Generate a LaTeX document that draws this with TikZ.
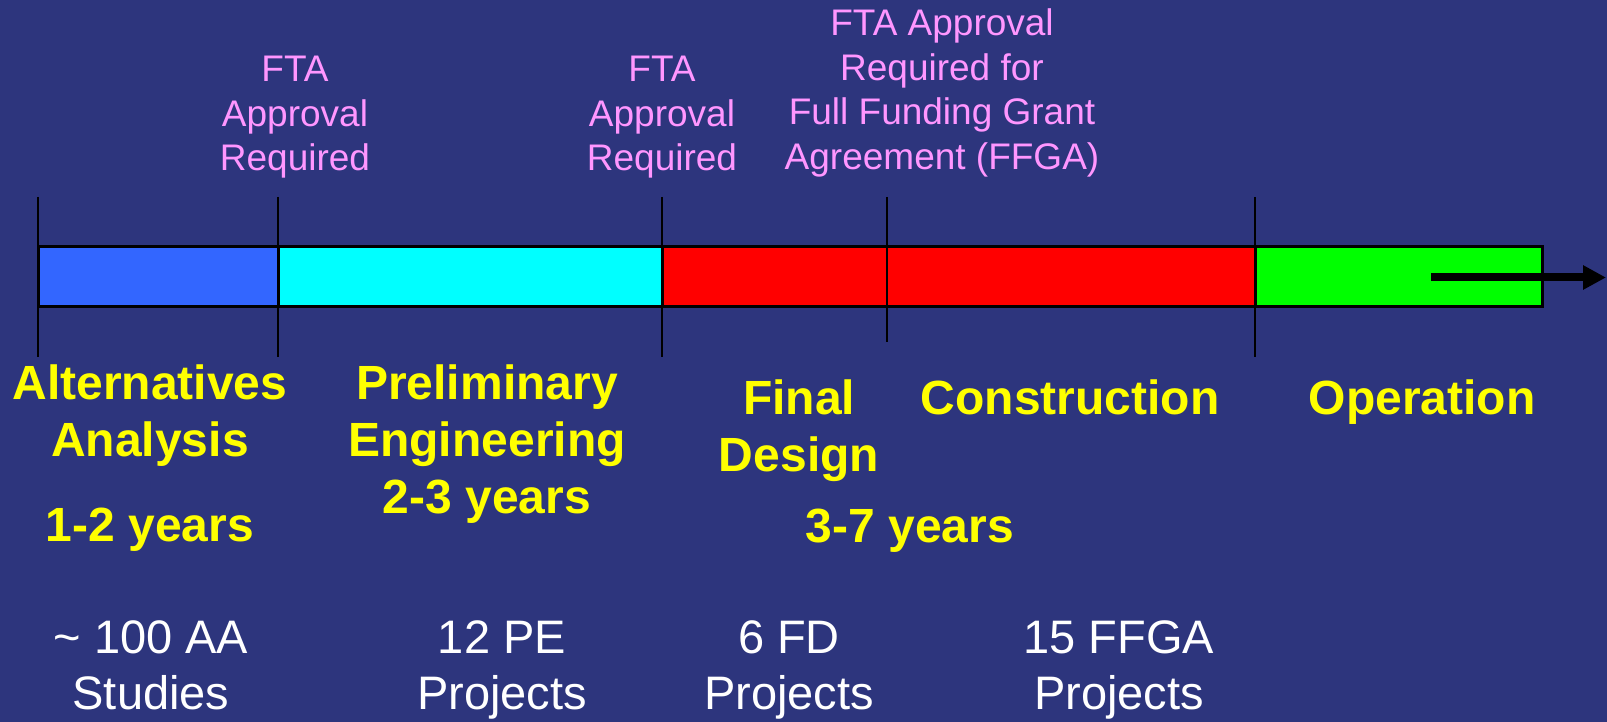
\documentclass[tikz,border=0pt]{standalone}
\usepackage{fontspec}
\setmainfont{Liberation Sans}
\usetikzlibrary{arrows.meta}

\definecolor{bgnavy}{RGB}{45,53,125}
\definecolor{ftapink}{RGB}{255,150,255}
\definecolor{aablue}{RGB}{51,102,255}
\definecolor{pecyan}{RGB}{0,255,255}
\definecolor{fdred}{RGB}{255,0,0}
\definecolor{opgreen}{RGB}{0,255,0}
\definecolor{phaseyellow}{RGB}{255,255,0}

\begin{document}
\begin{tikzpicture}[x=1pt,y=-1pt,
  approval/.style={anchor=north, inner sep=0pt, align=center, text=ftapink,
    font=\fontsize{37}{44.5}\selectfont},
  phase/.style={anchor=north, inner sep=0pt, align=center, text=phaseyellow,
    font=\fontsize{48}{57}\selectfont\bfseries},
  tally/.style={anchor=north, inner sep=0pt, align=center, text=white,
    font=\fontsize{47}{56}\selectfont},
  segment/.style={draw=black, line width=3pt},
  milestone/.style={draw=black, line width=2pt}]

  % page
  \fill[bgnavy] (0,0) rectangle (1607,722);
  \useasboundingbox (0,0) rectangle (1607,722);

  % phase bar
  \filldraw[segment, fill=aablue]  (38,246.5)  rectangle (278,306.5);
  \filldraw[segment, fill=pecyan]  (278,246.5) rectangle (662,306.5);
  \filldraw[segment, fill=fdred]   (662,246.5) rectangle (1255,306.5);
  \filldraw[segment, fill=opgreen] (1255,246.5) rectangle (1542,306.5);

  % milestone ticks
  \coordinate (t0a) at (38,197);   \coordinate (t0b) at (38,357);
  \coordinate (t1a) at (278,197);  \coordinate (t1b) at (278,357);
  \coordinate (t2a) at (662,197);  \coordinate (t2b) at (662,357);
  \coordinate (t3a) at (887,197);  \coordinate (t3b) at (887,342);
  \coordinate (t4a) at (1255,197); \coordinate (t4b) at (1255,357);
  \draw[milestone] (t0a) -- (t0b);
  \draw[milestone] (t1a) -- (t1b);
  \draw[milestone] (t2a) -- (t2b);
  \draw[milestone] (t3a) -- (t3b);
  \draw[milestone] (t4a) -- (t4b);

  % ongoing operation arrow
  \coordinate (opstart) at (1431,277.5);
  \coordinate (opend) at (1606,277.5);
  \draw[line width=8pt, -{Triangle[length=23pt,width=23pt]}] (opstart) -- (opend);

  % approval gates
  \node[approval] (gate1) at (295,56.2) {FTA\\Approval\\Required};
  \node[approval] (gate2) at (662,56.2) {FTA\\Approval\\Required};
  \node[approval] (gate3) at (942,8.5)
    {FTA Approval\\Required for\\Full Funding Grant\\Agreement (FFGA)};

  % phases
  \node[phase] (aa)   at (150,364.6)  {Alternatives\\Analysis};
  \node[phase] (aayr) at (150,507.6)  {1-2 years};
  \node[phase] (pe)   at (487,364.6)  {Preliminary\\Engineering\\2-3 years};
  \node[phase] (fd)   at (799,379.6)  {Final\\Design};
  \node[phase] (con)  at (1070,379.6) {Construction};
  \node[phase] (op)   at (1422,379.6) {Operation};
  \node[phase] (fcyr) at (910,508.6)  {3-7 years};

  % project counts
  \node[tally] (naa) at (151,620.3)  {\textasciitilde{} 100 AA\\Studies};
  \node[tally] (npe) at (502,620.3)  {12 PE\\Projects};
  \node[tally] (nfd) at (789,620.3)  {6 FD\\Projects};
  \node[tally] (nff) at (1119,620.3) {15 FFGA\\Projects};
\end{tikzpicture}
\end{document}
